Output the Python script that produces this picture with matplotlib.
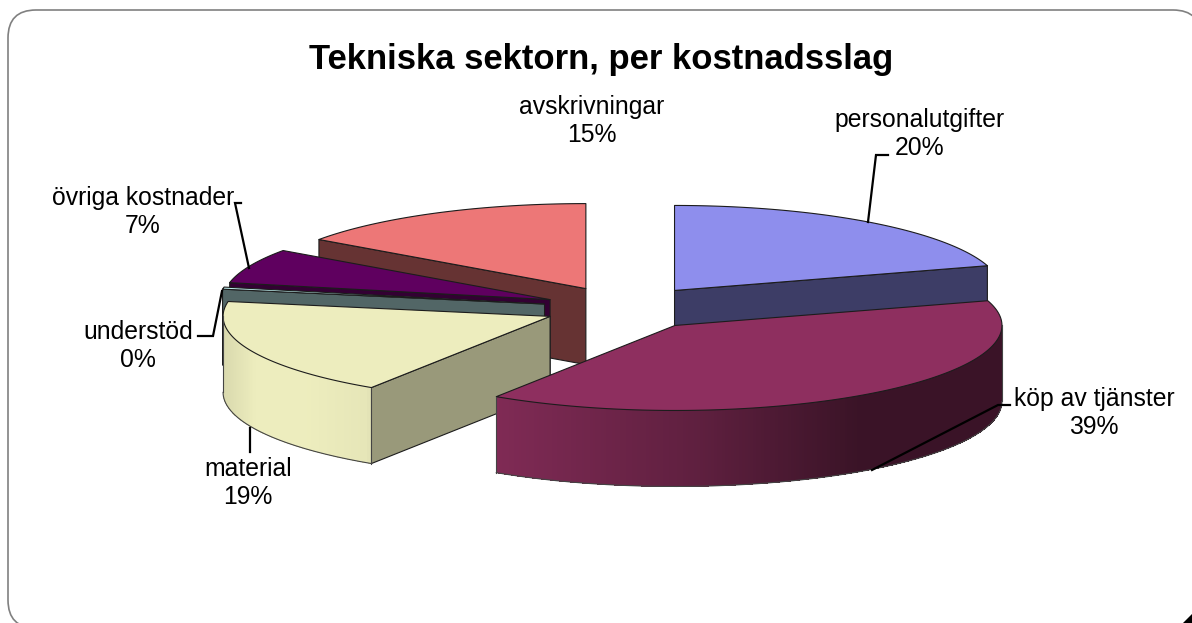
import numpy as np
import matplotlib
matplotlib.use("Agg")
import matplotlib.pyplot as plt
from matplotlib.patches import FancyBboxPatch, Polygon

plt.rcParams['font.family'] = ['Liberation Sans', 'DejaVu Sans']

title = 'Tekniska sektorn, per kostnadsslag'
categories = ['personalutgifter', 'köp av tjänster', 'material', 'understöd',
              'övriga kostnader', 'avskrivningar']
shares = [20.3, 38.9, 18.6, 0.4, 6.6, 15.2]

colors = ['#9999FF', '#993366', '#FFFFCC', '#CCFFFF', '#660066', '#FF8080']
side_shade = [0.40, 0.40, 0.60, 0.40, 0.50, 0.40]
label_pos = [(920, 134), (1094, 413), (248, 483), (138, 346), (143, 212), (592, 121)]

# pie geometry in pixels
cx, cy = 624.5, 308.0
rx, ry = 327.0, 85.0
depth = 76.0
explode = [0.257, 0.257, 0.248, 0.249, 0.248, 0.257]
draw_order = [5, 0, 4, 3, 2, 1]   # back to front

# leader lines
leaders = [
    [(888, 155), (876, 155), (868, 222)],
    [(1010, 405), (998, 405), (872, 470)],
    [(250, 452), (250, 428)],
    [(198, 336), (213, 336), (222, 291)],
    [(241, 203), (235, 203), (249, 268)],
]

# wall shading against horizontal position on the pie
wall_u = [-1, -0.9, -0.75, -0.56, -0.54, 0.07, 0.56, 1]
wall_f = [0.85, 0.93, 0.93, 0.90, 0.83, 0.62, 0.38, 0.38]
EDGE = '#1c1c1c'


def shade(col, f):
    return tuple(c * f for c in matplotlib.colors.to_rgb(col))


def rim(c0, th):
    th = np.radians(th)
    return np.column_stack([c0[0] + rx * np.sin(th), c0[1] - ry * np.cos(th)])


fig = plt.figure(figsize=(11.92, 6.23), dpi=100)
ax = fig.add_axes([0, 0, 1, 1])
ax.set_xlim(0, 1192)
ax.set_ylim(623, 0)
ax.axis('off')

ax.add_patch(FancyBboxPatch((36, 38), 1137, 562, boxstyle='round,pad=28,rounding_size=28',
                            fc='white', ec='#808080', lw=1.2, clip_on=True))
ax.add_patch(Polygon([(1183, 623), (1192, 623), (1192, 614)], fc='black', ec='none'))

edges = np.cumsum([0] + shares) / sum(shares) * 360

for i in draw_order:
    a0, a1 = edges[i], edges[i + 1]
    mid = np.radians((a0 + a1) / 2)
    c0 = (cx + rx * explode[i] * np.sin(mid), cy - ry * explode[i] * np.cos(mid))
    down = np.array([0, depth])
    apex = np.array(c0)
    side = shade(colors[i], side_shade[i])

    # cut faces, only the ones turned towards the viewer
    p0, p1 = rim(c0, a0)[0], rim(c0, a1)[0]
    if 180 < a0 < 360:
        ax.add_patch(Polygon([apex, p0, p0 + down, apex + down], fc=side, ec=EDGE, lw=0.8))
    if 0 < a1 < 180:
        ax.add_patch(Polygon([apex, p1, p1 + down, apex + down], fc=side, ec=EDGE, lw=0.8))

    # outer wall, drawn as narrow strips for the gradient
    w0, w1 = max(a0, 90), min(a1, 270)
    if w1 > w0:
        ths = np.linspace(w0, w1, int(w1 - w0) * 2 + 2)
        for t0, t1 in zip(ths[:-1], ths[1:]):
            q = rim(c0, np.array([t0, t1]))
            u = np.sin(np.radians((t0 + t1) / 2))
            col = shade(colors[i], np.interp(u, wall_u, wall_f))
            ax.add_patch(Polygon([q[0], q[1], q[1] + down, q[0] + down], fc=col, ec='none',
                                 antialiased=False))
        arc = rim(c0, np.linspace(w0, w1, 200))
        ax.plot(arc[:, 0], arc[:, 1] + depth, color='#444444', lw=0.8)
        ax.plot([arc[0, 0]] * 2, [arc[0, 1], arc[0, 1] + depth], color='#444444', lw=0.8)
        ax.plot([arc[-1, 0]] * 2, [arc[-1, 1], arc[-1, 1] + depth], color='#444444', lw=0.8)

    # top face
    arc = rim(c0, np.linspace(a0, a1, 200))
    ax.add_patch(Polygon(np.vstack([apex, arc]), fc=shade(colors[i], 0.93),
                         ec=EDGE, lw=0.8, joinstyle='round'))

for pts in leaders:
    ax.plot([p[0] for p in pts], [p[1] for p in pts], color='black', lw=1.6,
            solid_joinstyle='miter')

ax.text(601, 60, title, ha='center', va='center', fontsize=24.9, fontweight='bold', color='black')
for name, val, (x, y) in zip(categories, shares, label_pos):
    ax.text(x, y, f'{name}\n{round(val)}%', ha='center', va='center', fontsize=17.8,
            color='black', linespacing=1.2)

fig.savefig('out.png', dpi=100)
